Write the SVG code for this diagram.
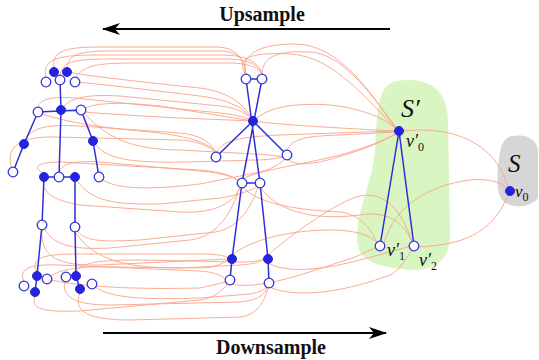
<svg xmlns="http://www.w3.org/2000/svg" width="539" height="360" viewBox="0 0 539 360">
<style>
.c{fill:none;stroke:#f8a488;stroke-width:1;opacity:0.9}
.e{fill:none;stroke:#2f2fd8;stroke-width:1.5}
.f{fill:#2424dc;stroke:#2424dc;stroke-width:1}
.o{fill:#fff;stroke:#3535dc;stroke-width:1.3}
.lab{font-family:"Liberation Serif",serif;font-style:italic;fill:#111}
.ttl{font-family:"Liberation Serif",serif;font-weight:bold;font-size:20px;fill:#111}
</style>
<defs>
<marker id="ah" viewBox="0 0 18 12" refX="17" refY="6" markerWidth="18" markerHeight="12" markerUnits="userSpaceOnUse" orient="auto">
<path d="M0,0 L18,6 L0,12 L5,6 Z" fill="#000"/>
</marker>
</defs>
<rect width="539" height="360" fill="#fff"/>
<g id="blob-s-prime"><path d="M397,81 C425,77 447,86 448,120 L450,232 C451,262 432,274 402,269 C378,266 357,262 357,238 C357,208 372,185 375,150 C378,112 376,85 397,81 Z" fill="#d8f5c2"/></g>
<g id="blob-s"><path d="M512,136 C530,133 538,142 538,152 L538,198 C530,208 512,209 503,201 C495,192 497,170 500,152 C502,142 506,137 512,136 Z" fill="#d6d6d6"/></g>
<g id="connectors">
<path class="c" d="M54,68 C52,52 62,47 100,47 L215,47 C238,47 244,60 246,74"/>
<path class="c" d="M67,68 C68,55 78,51 110,51 L220,51 C240,51 245,62 246,74"/>
<path class="c" d="M46,78 C42,60 55,55 95,55 L222,55 C250,55 260,65 262,74"/>
<path class="c" d="M60,76 C62,62 72,59 110,59 L225,59 C252,59 260,67 262,74"/>
<path class="c" d="M75,78 C85,64 100,63 140,63 L230,63 C252,63 260,70 262,74"/>
<path class="c" d="M75,82 C100,84 150,90 200,96 C230,100 245,108 253,121"/>
<path class="c" d="M67,72 C90,76 140,82 200,88 C230,92 245,105 253,121"/>
<path class="c" d="M61,110 C68,98 85,94 120,96 L220,106 C238,108 248,114 253,121"/>
<path class="c" d="M38,112 C36,100 48,96 75,98 L210,112 C235,114 248,118 253,121"/>
<path class="c" d="M81,110 C95,102 120,102 160,106 L253,121"/>
<path class="c" d="M61,110 C80,112 120,115 180,118 L253,121"/>
<path class="c" d="M24,144 C28,128 45,124 80,126 L180,133 C203,135 212,145 216,152"/>
<path class="c" d="M13,172 C4,150 15,136 55,137 L180,140 C200,141 210,148 216,152"/>
<path class="c" d="M38,112 C55,120 100,128 150,132 C190,136 210,144 216,152"/>
<path class="c" d="M93,141 C105,160 130,163 190,162 L255,160 C270,160 278,158 283,157"/>
<path class="c" d="M99,177 C112,190 150,190 200,184 L260,172 C275,168 282,162 285,159"/>
<path class="c" d="M81,110 C100,130 120,150 180,150 L255,154 C270,155 278,156 283,157"/>
<path class="c" d="M44,173 C32,168 36,162 60,162 L200,170 C222,172 234,176 238,181"/>
<path class="c" d="M59,173 C60,165 72,160 100,162 L210,172 C228,175 236,178 238,181"/>
<path class="c" d="M75,177 C88,200 110,205 160,204 L220,198 C240,195 252,190 258,186"/>
<path class="c" d="M42,225 C52,245 70,250 110,248 L190,240 C220,236 232,210 240,187"/>
<path class="c" d="M75,227 C82,242 100,242 140,240 L215,232 C240,228 252,205 258,187"/>
<path class="c" d="M44,177 C40,190 50,200 80,205 L180,212 C220,214 235,200 240,187"/>
<path class="c" d="M37,272 C30,258 42,254 80,254 L200,254 C218,254 226,256 228,258"/>
<path class="c" d="M42,230 C40,258 60,266 100,265 L228,259"/>
<path class="c" d="M76,272 C82,262 100,260 140,260 L240,262 C255,262 262,260 264,259"/>
<path class="c" d="M75,232 C95,262 130,268 180,268 L240,265 C255,264 262,261 264,259"/>
<path class="c" d="M47,279 C60,268 80,266 120,267 L200,268 C215,268 224,263 228,259"/>
<path class="c" d="M24,282 C18,268 30,264 60,265 L200,271 C215,272 222,276 226,279"/>
<path class="c" d="M35,296 C30,310 45,312 80,311 L200,300 C215,298 222,290 228,284"/>
<path class="c" d="M47,279 C70,285 120,290 200,288 L226,282"/>
<path class="c" d="M66,277 C60,295 70,305 110,305 L240,302 C258,300 265,295 267,287"/>
<path class="c" d="M80,293 C72,312 90,320 130,320 L240,317 C258,315 265,300 268,288"/>
<path class="c" d="M92,284 C105,298 140,300 200,298 L250,294 C260,292 265,290 266,287"/>
<path class="c" d="M246,75 C240,56 256,44 295,44 C340,44 372,95 396,128"/>
<path class="c" d="M262,75 C262,58 275,50 310,52 C345,54 375,100 396,128"/>
<path class="c" d="M246,75 C235,58 250,52 290,54 C335,56 370,104 396,128"/>
<path class="c" d="M253,121 C270,105 300,103 330,105 C360,108 385,118 396,129"/>
<path class="c" d="M253,121 C280,125 340,128 395,131"/>
<path class="c" d="M216,153 C222,140 240,137 280,135 L395,131"/>
<path class="c" d="M287,151 C290,138 310,136 340,135 L395,132"/>
<path class="c" d="M287,159 C300,170 330,160 360,150 C375,145 388,138 396,134"/>
<path class="c" d="M242,179 C260,170 300,165 340,155 C365,148 385,140 396,134"/>
<path class="c" d="M403,131 C440,127 470,135 490,155 C500,165 505,178 508,187"/>
<path class="c" d="M242,187 C260,205 300,210 340,212 C360,214 372,230 377,243"/>
<path class="c" d="M232,255 C250,240 290,230 330,230 C355,230 370,235 377,243"/>
<path class="c" d="M230,284 C260,290 300,275 340,262 C360,256 370,250 377,247"/>
<path class="c" d="M260,187 C280,215 320,220 360,215 C390,210 405,225 412,242"/>
<path class="c" d="M268,263 C290,275 330,268 360,260 C390,252 405,248 410,246"/>
<path class="c" d="M269,287 C300,300 350,290 390,275 C400,270 405,260 412,250"/>
<path class="c" d="M268,255 C290,235 340,200 360,196 C390,190 405,220 412,242"/>
<path class="c" d="M384,243 C395,205 430,185 470,180 C490,178 502,183 507,188"/>
<path class="c" d="M418,247 C460,245 492,235 508,195"/>
</g>
<g id="skeleton-edges">
<path class="e" d="M61,110 L60,80 M38,112 L81,110 M38,112 L24,144 L13,172 M81,110 L93,141 L99,177 M61,110 L59,177 M44,177 L75,177 M44,177 L42,225 L37,276 L35,292 M75,177 L75,227 L76,276 L80,289"/>
<path class="e" d="M246,79 L262,79 M246,79 L260,183 M262,79 L242,183 M253,121 L216,157 M253,121 L287,155 M242,183 L260,183 M242,183 L232,259 L230,280 M260,183 L268,259 L269,283"/>
<path class="e" d="M399,131 L380,246 M399,131 L414,246"/>
</g>
<g id="n-l-head1"><circle class="f" cx="54" cy="72" r="4.5"/></g>
<g id="n-l-head2"><circle class="f" cx="67" cy="72" r="4.5"/></g>
<g id="n-l-head3"><circle class="o" cx="46" cy="82" r="4.8"/></g>
<g id="n-l-head4"><circle class="o" cx="60" cy="80" r="4.8"/></g>
<g id="n-l-head5"><circle class="o" cx="75" cy="82" r="4.8"/></g>
<g id="n-l-neck"><circle class="f" cx="61" cy="110" r="4.5"/></g>
<g id="n-l-shoulder-l"><circle class="o" cx="38" cy="112" r="4.8"/></g>
<g id="n-l-shoulder-r"><circle class="o" cx="81" cy="110" r="4.8"/></g>
<g id="n-l-elbow-l"><circle class="f" cx="24" cy="144" r="4.5"/></g>
<g id="n-l-elbow-r"><circle class="f" cx="93" cy="141" r="4.5"/></g>
<g id="n-l-wrist-l"><circle class="o" cx="13" cy="172" r="4.8"/></g>
<g id="n-l-wrist-r"><circle class="o" cx="99" cy="177" r="4.8"/></g>
<g id="n-l-hip-l"><circle class="f" cx="44" cy="177" r="4.5"/></g>
<g id="n-l-hip-c"><circle class="o" cx="59" cy="177" r="4.8"/></g>
<g id="n-l-hip-r"><circle class="f" cx="75" cy="177" r="4.5"/></g>
<g id="n-l-knee-l"><circle class="o" cx="42" cy="225" r="4.8"/></g>
<g id="n-l-knee-r"><circle class="o" cx="75" cy="227" r="4.8"/></g>
<g id="n-l-ankle-l"><circle class="f" cx="37" cy="276" r="4.5"/></g>
<g id="n-l-ankle-r"><circle class="f" cx="76" cy="276" r="4.5"/></g>
<g id="n-l-foot-l1"><circle class="o" cx="47" cy="279" r="4.8"/></g>
<g id="n-l-foot-l2"><circle class="o" cx="24" cy="286" r="4.8"/></g>
<g id="n-l-foot-l3"><circle class="f" cx="35" cy="292" r="4.5"/></g>
<g id="n-l-foot-r1"><circle class="o" cx="66" cy="277" r="4.8"/></g>
<g id="n-l-foot-r2"><circle class="f" cx="80" cy="289" r="4.5"/></g>
<g id="n-l-foot-r3"><circle class="o" cx="92" cy="284" r="4.8"/></g>
<g id="n-m-head-l"><circle class="o" cx="246" cy="79" r="4.8"/></g>
<g id="n-m-head-r"><circle class="o" cx="262" cy="79" r="4.8"/></g>
<g id="n-m-center"><circle class="f" cx="253" cy="121" r="4.5"/></g>
<g id="n-m-arm-l"><circle class="o" cx="216" cy="157" r="4.8"/></g>
<g id="n-m-arm-r"><circle class="o" cx="287" cy="155" r="4.8"/></g>
<g id="n-m-hip-l"><circle class="o" cx="242" cy="183" r="4.8"/></g>
<g id="n-m-hip-r"><circle class="o" cx="260" cy="183" r="4.8"/></g>
<g id="n-m-knee-l"><circle class="f" cx="232" cy="259" r="4.5"/></g>
<g id="n-m-knee-r"><circle class="f" cx="268" cy="259" r="4.5"/></g>
<g id="n-m-foot-l"><circle class="o" cx="230" cy="280" r="4.8"/></g>
<g id="n-m-foot-r"><circle class="o" cx="269" cy="283" r="4.8"/></g>
<g id="n-v0p"><circle class="f" cx="399" cy="131" r="4.5"/></g>
<g id="n-v1p"><circle class="o" cx="380" cy="246" r="4.8"/></g>
<g id="n-v2p"><circle class="o" cx="414" cy="246" r="4.8"/></g>
<g id="n-v0"><circle class="f" cx="510" cy="191" r="4.5"/></g>
<g id="labels">
<text class="lab" x="401" y="117" font-size="26">S′</text>
<text class="lab" x="406" y="147" font-size="18">v′<tspan font-size="12" dy="4" font-style="normal">0</tspan></text>
<text class="lab" x="387" y="256" font-size="18">v′<tspan font-size="12" dy="4" font-style="normal">1</tspan></text>
<text class="lab" x="419" y="266" font-size="18">v′<tspan font-size="12" dy="4" font-style="normal">2</tspan></text>
<text class="lab" x="508" y="172" font-size="25">S</text>
<text class="lab" x="515" y="197" font-size="17">v<tspan font-size="12" dy="4" font-style="normal">0</tspan></text>
</g>
<g id="arrow-up">
<line x1="390" y1="29" x2="103" y2="29" stroke="#000" stroke-width="2" marker-end="url(#ah)"/>
<text class="ttl" x="262" y="21" text-anchor="middle">Upsample</text>
</g>
<g id="arrow-down">
<line x1="103" y1="333" x2="386" y2="333" stroke="#000" stroke-width="2" marker-end="url(#ah)"/>
<text class="ttl" x="271" y="354" text-anchor="middle">Downsample</text>
</g>
</svg>
